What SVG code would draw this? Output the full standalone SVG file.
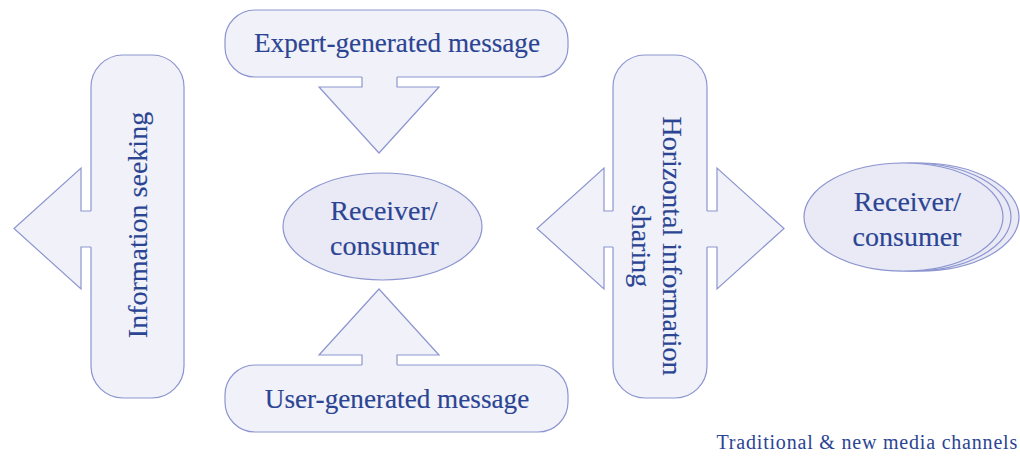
<svg xmlns="http://www.w3.org/2000/svg" width="1020" height="457" viewBox="0 0 1020 457">
<defs>
<style>
.box{fill:#f1f2f9;stroke:#8c95cf;stroke-width:1.2}
.ell{fill:#e9eaf6;stroke:#8c95cf;stroke-width:1.2}
.afill{fill:#f1f2f9;stroke:none}
.aline{fill:none;stroke:#8c95cf;stroke-width:1.2;stroke-linejoin:miter}
.lbl{font-family:"Liberation Serif",serif;font-size:28px;fill:#2b4493;stroke:#2b4493;stroke-width:0.15;text-anchor:middle}
.msg{font-size:27.2px}
.note{font-family:"Liberation Serif",serif;font-size:20px;letter-spacing:0.8px;fill:#2b4493;text-anchor:end}
</style>
</defs>
<rect width="1020" height="457" fill="#ffffff"/>
<g id="expert">
<rect class="box" x="225" y="10" width="343" height="67" rx="30" ry="30"/>
<text class="lbl msg" x="397" y="52">Expert-generated message</text>
</g>
<g id="user">
<rect class="box" x="225" y="365" width="343" height="67" rx="30" ry="30"/>
<text class="lbl msg" x="397" y="408">User-generated message</text>
</g>
<g id="seeking">
<rect class="box" x="91" y="55" width="93" height="343" rx="32" ry="32"/>
</g>
<g id="horizontal">
<rect class="box" x="613" y="55" width="94" height="343" rx="32" ry="32"/>
</g>
<g id="receiver">
<ellipse class="ell" cx="382.5" cy="226.5" rx="99.5" ry="53.5"/>
<text class="lbl" x="384" y="220">Receiver/</text>
<text class="lbl" x="384.5" y="255">consumer</text>
</g>
<g id="receivers">
<ellipse class="ell" cx="919.5" cy="217" rx="99.5" ry="54"/>
<ellipse class="ell" cx="911.5" cy="217" rx="99.5" ry="54"/>
<ellipse class="ell" cx="903.5" cy="217" rx="99.5" ry="54"/>
<text class="lbl" x="907.5" y="211">Receiver/</text>
<text class="lbl" x="907" y="246">consumer</text>
</g>
<g id="connectors">
<polygon class="afill" points="362,75 362,87 319,87 379,153 439,87 397,87 397,75"/>
<path class="aline" d="M362,77 V87 H319 L379,153 L439,87 H397 V77"/>
<polygon class="afill" points="362,367 362,355 319,355 379,289 439,355 397,355 397,367"/>
<path class="aline" d="M362,365 V355 H319 L379,289 L439,355 H397 V365"/>
<polygon class="afill" points="93,211 81,211 81,168 14,228.5 81,289 81,247 93,247"/>
<path class="aline" d="M91,211 H81 V168 L14,228.5 L81,289 V247 H91"/>
<polygon class="afill" points="615,211 604,211 604,168 537,228.5 604,289 604,247 615,247"/>
<path class="aline" d="M613,211 H604 V168 L537,228.5 L604,289 V247 H613"/>
<polygon class="afill" points="705,211 717,211 717,168 784,228.5 717,289 717,247 705,247"/>
<path class="aline" d="M707,211 H717 V168 L784,228.5 L717,289 V247 H707"/>
</g>
<g id="seeking-label">
<text class="lbl" transform="translate(147,225) rotate(-90)" x="0" y="0">Information seeking</text>
</g>
<g id="horizontal-label">
<text class="lbl" transform="translate(663,246) rotate(90)" x="0" y="0">Horizontal information</text>
<text class="lbl" transform="translate(663,246) rotate(90)" x="0" y="31">sharing</text>
</g>
<g id="caption">
<text class="note" x="1018" y="449">Traditional &amp; new media channels</text>
</g>
</svg>
